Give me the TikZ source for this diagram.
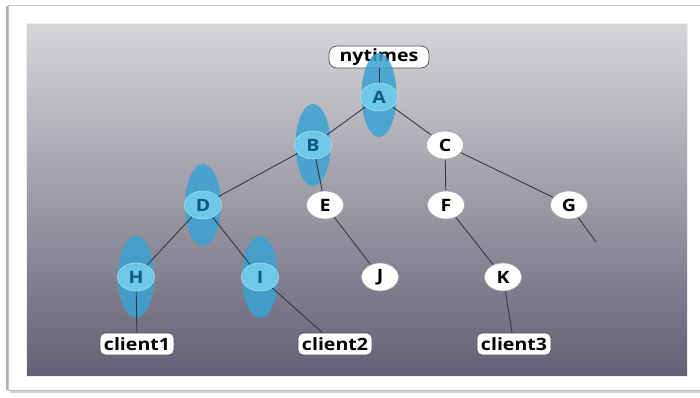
\documentclass[tikz,border=0pt]{standalone}
\usepackage{fontspec}
\setmainfont{Open Sans}[FakeStretch=1.15]
\usetikzlibrary{shapes.geometric}
\definecolor{edgecol}{RGB}{55,55,65}
\definecolor{hlblue}{RGB}{58,163,210}
\definecolor{hlnode}{RGB}{110,200,232}
\definecolor{hltext}{RGB}{15,90,125}
\definecolor{bgtop}{RGB}{214,214,217}
\definecolor{bgbot}{RGB}{98,96,116}
\pgfdeclarelayer{bg}
\pgfdeclarelayer{hl}
\pgfdeclarelayer{edges}
\pgfsetlayers{bg,hl,edges,main}
\tikzset{
  vert/.style={ellipse, minimum width=37pt, minimum height=28pt, inner sep=0pt,
    fill=white, draw=gray!70, line width=0.6pt,
    font=\fontsize{17}{20}\selectfont\bfseries, text=black},
  hlvert/.style={vert, fill=hlnode, draw=hlnode!60!white, text=hltext},
  tag/.style={rectangle, rounded corners=5pt, minimum height=22pt, minimum width=74pt,
    inner sep=1pt, fill=white, draw=gray!60!black, line width=0.7pt,
    font=\fontsize{17}{20}\selectfont\bfseries, text=black},
  link/.style={draw=edgecol, line width=0.9pt},
  halo/.style={fill=hlblue, fill opacity=0.85},
}
\begin{document}
\begin{tikzpicture}[x=1pt,y=-1pt]
\useasboundingbox (0,0) rectangle (700,397);
\begin{pgfonlayer}{bg}
  % card with its shadow
  \fill[gray!35] (10,388) rectangle (712,393);
  \fill[white] (8,5) rectangle (712,390);
  \draw[gray!45, line width=0.6pt] (8,390) -- (8,5) -- (712,5);
  \draw[gray!60, line width=1.6pt] (7,6) -- (7,390);
  \draw[gray!55, line width=1.4pt] (8,390.5) -- (712,390.5);
  % shaded panel
  \shade[top color=bgtop, bottom color=bgbot] (26,23) rectangle (687,376);
  \draw[white!85!gray, line width=0.5pt] (26,23) rectangle (687,376);
  \node[tag, minimum width=100pt, rounded corners=8pt] (ny) at (379,57) {nytimes};
\end{pgfonlayer}

% tree vertices
\node[hlvert] (A) at (379,97) {A};
\node[hlvert] (B) at (313,145) {B};
\node[vert]   (C) at (445,145) {C};
\node[hlvert] (D) at (203,205) {D};
\node[vert]   (E) at (325,205) {E};
\node[vert]   (F) at (446,205) {F};
\node[vert]   (G) at (569,205) {G};
\node[hlvert] (H) at (136,277) {H};
\node[hlvert] (I) at (260,277) {I};
\node[vert]   (J) at (380,277) {J};
\node[vert]   (K) at (503,277) {K};
\node[tag] (c1) at (137,344) {client1};
\node[tag] (c2) at (335,344) {client2};
\node[tag] (c3) at (514,344) {client3};
\coordinate (gend) at (596,242);

\begin{pgfonlayer}{edges}
  \path[link] (ny) -- (A);
  \path[link] (A) -- (B);
  \path[link] (A) -- (C);
  \path[link] (B) -- (D);
  \path[link] (B) -- (E);
  \path[link] (C) -- (F);
  \path[link] (C) -- (G);
  \path[link] (D) -- (H);
  \path[link] (D) -- (I);
  \path[link] (E) -- (J);
  \path[link] (F) -- (K);
  \path[link] (G) -- (gend);
  \path[link] (H) -- (c1);
  \path[link] (I) -- (c2);
  \path[link] (K) -- (c3);
\end{pgfonlayer}

% highlighted path halos
\begin{pgfonlayer}{hl}
  \path[halo] ([yshift=2pt]A.center) ellipse [x radius=17.5pt, y radius=42pt];
  \path[halo] (B) ellipse [x radius=17.5pt, y radius=41pt];
  \path[halo] (D) ellipse [x radius=18pt, y radius=41pt];
  \path[halo] (H) ellipse [x radius=18pt, y radius=41pt];
  \path[halo] (I) ellipse [x radius=18pt, y radius=41pt];
\end{pgfonlayer}
\end{tikzpicture}
\end{document}
